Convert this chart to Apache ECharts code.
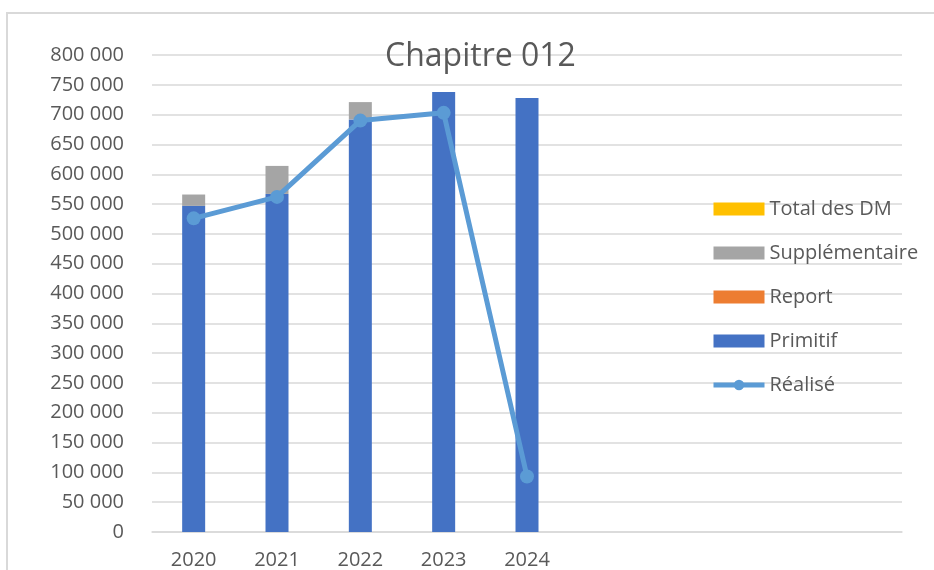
<!DOCTYPE html>
<html>
<head>
<meta charset="utf-8">
<script src="https://cdn.jsdelivr.net/npm/echarts@6/dist/echarts.min.js"></script>
<style>
  html, body { margin: 0; padding: 0; background: #fff; }
  #chart { width: 934px; height: 570px; }
</style>
</head>
<body>
<div id="chart"></div>
<script>
// categories (Excel range includes 4 empty rows after 2024)
const years = ['2020', '2021', '2022', '2023', '2024', '', '', '', '']
const primitif = [547000, 567000, 692000, 738000, 728000]
const report = [0, 0, 0, 0, 0]
const supplementaire = [19000, 47000, 29000, 0, 0]
const totalDM = [0, 0, 0, 0, 0]
const realise = [526000, 562000, 690000, 703000, 93000]

const font = 'Open Sans'
const grey = '#595959'

const fmt = (v) => String(v).replace(/\B(?=(\d{3})+(?!\d))/g, ' ')

const myChart = echarts.init(document.getElementById('chart'))

const option = {
  animation: false,
  textStyle: { fontFamily: font },
  title: {
    text: 'Chapitre 012',
    left: 385,
    top: 41,
    padding: 0,
    textStyle: { fontFamily: font, fontSize: 32, fontWeight: 'normal', color: grey }
  },
  graphic: [{
    type: 'rect',
    shape: { x: 7, y: 13, width: 1000, height: 700 },
    style: { fill: 'none', stroke: '#d9d9d9', lineWidth: 2 },
    silent: true
  }],
  legend: {
    orient: 'vertical',
    left: 711,
    top: 199,
    padding: 0,
    itemWidth: 51,
    itemHeight: 13,
    itemGap: 24,
    data: [
      { name: 'Total des DM', icon: 'rect' },
      { name: 'Supplémentaire', icon: 'rect' },
      { name: 'Report', icon: 'rect' },
      { name: 'Primitif', icon: 'rect' },
      { name: 'Réalisé', lineStyle: { width: 5 } }
    ],
    textStyle: { fontFamily: font, fontSize: 20, color: grey, lineHeight: 20 }
  },
  grid: {
    left: 152,
    right: 32,
    top: 55,
    bottom: 38,
    containLabel: false
  },
  xAxis: {
    type: 'category',
    data: years,
    axisLine: { lineStyle: { color: '#d9d9d9', width: 1.5 } },
    axisTick: { show: false },
    axisLabel: { fontFamily: font, fontSize: 20, color: grey, margin: 18, interval: 0 }
  },
  yAxis: {
    type: 'value',
    min: 0,
    max: 800000,
    interval: 50000,
    axisLine: { show: false },
    axisTick: { show: false },
    splitLine: { lineStyle: { color: '#d9d9d9', width: 1.5 } },
    axisLabel: { fontFamily: font, fontSize: 20, color: grey, margin: 28, formatter: fmt }
  },
  series: [
    {
      name: 'Primitif',
      type: 'bar',
      stack: 'budget',
      barWidth: 23,
      itemStyle: { color: '#4472C4' },
      data: primitif
    },
    {
      name: 'Report',
      type: 'bar',
      stack: 'budget',
      barWidth: 23,
      itemStyle: { color: '#ED7D31' },
      data: report
    },
    {
      name: 'Supplémentaire',
      type: 'bar',
      stack: 'budget',
      barWidth: 23,
      itemStyle: { color: '#A5A5A5' },
      data: supplementaire
    },
    {
      name: 'Total des DM',
      type: 'bar',
      stack: 'budget',
      barWidth: 23,
      itemStyle: { color: '#FFC000' },
      data: totalDM
    },
    {
      name: 'Réalisé',
      type: 'line',
      z: 5,
      symbol: 'circle',
      symbolSize: 14,
      lineStyle: { color: '#5B9BD5', width: 5 },
      itemStyle: { color: '#5B9BD5' },
      data: realise
    }
  ]
}

myChart.setOption(option)
</script>
</body>
</html>
